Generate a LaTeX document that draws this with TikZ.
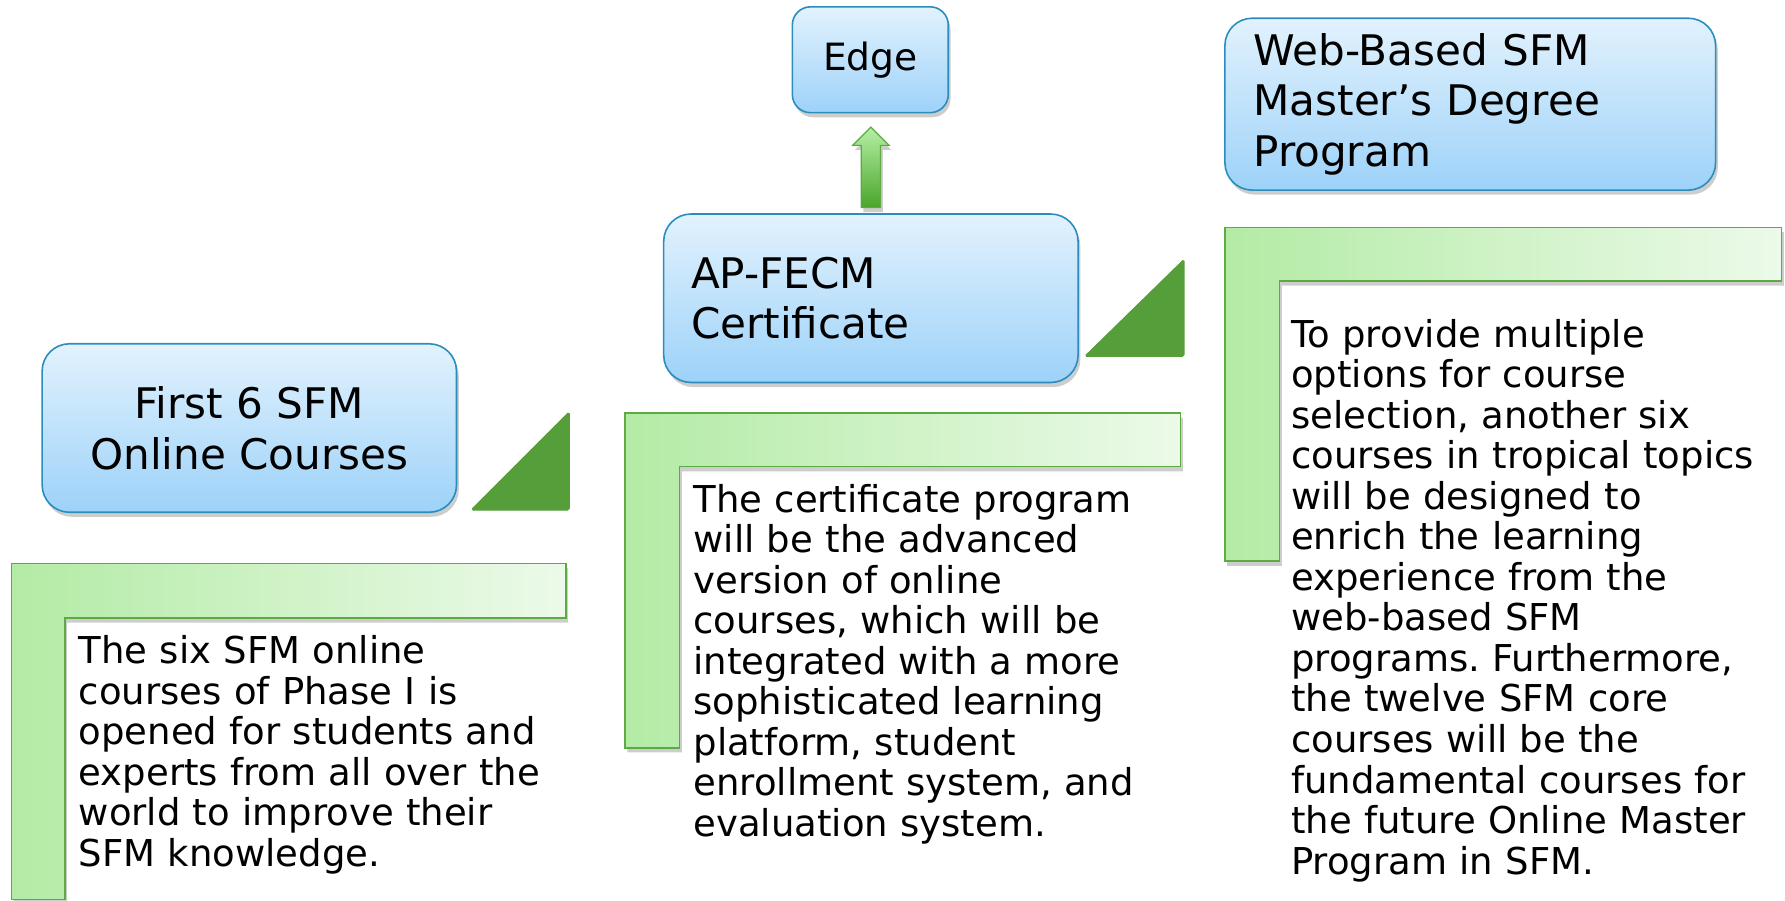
\documentclass[tikz,border=0pt]{standalone}
\usepackage{fontspec}
\setmainfont{DejaVu Sans}
\usetikzlibrary{shadows,calc}
\frenchspacing
\definecolor{boxtop}{HTML}{E2F2FD}
\definecolor{boxbot}{HTML}{9DD2F9}
\definecolor{boxline}{HTML}{2A8DBC}
\definecolor{lleft}{HTML}{B3EBA5}
\definecolor{lright}{HTML}{ECFAE9}
\definecolor{lline}{HTML}{5DAA43}
\definecolor{tri}{HTML}{559E3A}
\definecolor{arrtop}{HTML}{B5F0A5}
\definecolor{arrbot}{HTML}{4AA52B}
\tikzset{
  softshadow/.style={drop shadow={shadow xshift=2pt, shadow yshift=-4pt, opacity=0.28, fill=black!70}},
  titlebox/.style={draw=boxline, line width=1.4pt, rounded corners=24pt,
    top color=boxtop, bottom color=boxbot, softshadow,
    font=\fontsize{37}{44.5}\selectfont, inner sep=0pt},
  lbar/.style={draw=lline, line width=1.3pt, left color=lleft, right color=lright, softshadow},
  tribox/.style={fill=tri, draw=tri, line width=1pt, rounded corners=1.5pt},
  blockarrow/.style={draw=lline, line width=1pt, top color=arrtop, bottom color=arrbot, softshadow},
  bodytext/.style={anchor=base west, inner sep=0pt, text width=520pt, align=left,
    font=\fontsize{32.5}{35.6}\selectfont},
}
\begin{document}
\begin{tikzpicture}[x=1pt,y=-1pt]
\useasboundingbox (0,0) rectangle (1568,791);

% L-shaped bars
\path[lbar] (10,495) -- (497,495) -- (497,543) -- (57,543) -- (57,790) -- (10,790) -- cycle;
\path[lbar] (549,363) -- (1037,363) -- (1037,410) -- (597,410) -- (597,657) -- (549,657) -- cycle;
\path[lbar] (1076,200) -- (1565,200) -- (1565,247) -- (1124,247) -- (1124,493) -- (1076,493) -- cycle;

% triangles
\path[tribox] (414,448) -- (500,362) -- (500,448) -- cycle;
\path[tribox] (953,313) -- (1040,228) -- (1040,313) -- cycle;

% title boxes
\node[titlebox, minimum width=364pt, minimum height=148pt, align=center] (first) at (219,376)
  {First 6 SFM\\Online Courses};
\node[titlebox, minimum height=148pt, text width=316pt, inner xsep=24pt, align=left] (ap) at (765,262)
  {AP-FECM\\Certificate};
\node[titlebox, minimum height=151pt, text width=381pt, inner xsep=25pt, align=left] (web) at (1291.5,91.5)
  {Web-Based SFM\\Master’s Degree\\Program};
\node[titlebox, rounded corners=16pt, minimum width=137pt, minimum height=93pt,
  font=\fontsize{33}{40}\selectfont] (edge) at (764.5,52.5)
  {Edge};

% block arrow from AP-FECM to Edge
\path[blockarrow] let \p1=($(ap.north)+(0,-5)$), \p2=($(edge.south)+(0,12)$) in
  (\x1-8.5pt,\y1) -- (\x1-8.5pt,\y2-16pt) -- (\x1-16pt,\y2-16pt) -- (\x1,\y2)
  -- (\x1+16pt,\y2-16pt) -- (\x1+8.5pt,\y2-16pt) -- (\x1+8.5pt,\y1) -- cycle;

% body texts
\node[bodytext] (t1) at (69,583) {The six SFM online\\courses of Phase I is\\opened for students and\\experts from all over the\\world to improve their\\SFM knowledge.};
\node[bodytext] (t2) at (609,450) {The certificate program\\will be the advanced\\version of online\\courses, which will be\\integrated with a more\\sophisticated learning\\platform, student\\enrollment system, and\\evaluation system.};
\node[bodytext] (t3) at (1134,305) {To provide multiple\\options for course\\selection, another six\\courses in tropical topics\\will be designed to\\enrich the learning\\experience from the\\web-based SFM\\programs. Furthermore,\\the twelve SFM core\\courses will be the\\fundamental courses for\\the future Online Master\\Program in SFM.};
\end{tikzpicture}
\end{document}
